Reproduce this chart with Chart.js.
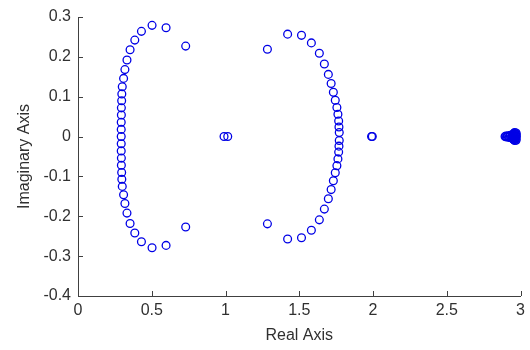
<!DOCTYPE html>
<html>
<head>
<meta charset="utf-8">
<script src="https://cdn.jsdelivr.net/npm/chart.js@4/dist/chart.umd.min.js"></script>
<style>
html,body{margin:0;padding:0;background:#fff;}
#wrap{width:530px;height:350px;}
</style>
</head>
<body>
<div id="wrap"><canvas id="c" width="530" height="350"></canvas></div>
<script>
// Pole locations (real part, imaginary part)
const leftBranchRe = [0.730,0.597,0.502,0.430,0.385,0.353,0.332,0.318,0.309,0.300,0.297,0.296,0.294,0.294,0.293,0.293,
                      0.293,
                      0.293,0.293,0.294,0.294,0.296,0.297,0.300,0.309,0.318,0.332,0.353,0.385,0.430,0.502,0.597,0.730];
const leftBranchIm = [0.227,0.273,0.279,0.264,0.242,0.218,0.192,0.168,0.146,0.125,0.107,0.090,0.072,0.054,0.036,0.018,
                      0,
                      -0.018,-0.036,-0.054,-0.072,-0.090,-0.107,-0.125,-0.146,-0.168,-0.192,-0.218,-0.242,-0.264,-0.279,-0.273,-0.227];
const rightBranchRe = [1.284,1.421,1.515,1.582,1.636,1.670,1.697,1.716,1.731,1.744,1.755,1.762,1.767,1.769,1.771,
                       1.771,1.769,1.767,1.762,1.755,1.744,1.731,1.716,1.697,1.670,1.636,1.582,1.515,1.421,1.284];
const rightBranchIm = [0.219,0.257,0.254,0.235,0.209,0.182,0.156,0.133,0.111,0.091,0.073,0.056,0.039,0.024,0.010,
                       -0.010,-0.024,-0.039,-0.056,-0.073,-0.091,-0.111,-0.133,-0.156,-0.182,-0.209,-0.235,-0.254,-0.257,-0.219];
const realAxisRe = [0.99,1.015,1.99,1.995];
const realAxisIm = [0,0,0,0];
const clusterRe = [2.895,2.900,2.905,2.910,2.915,2.920,2.925,2.930,2.935,2.940,2.945,2.945,2.950,2.950,2.952,2.955,2.955,2.958,2.960,2.960,2.962,2.965,2.965,2.968,2.970,2.970,2.972,2.975,2.975,2.978];
const clusterIm = [0,0.001,-0.001,0,0.002,-0.002,0,0.003,-0.003,0,0.004,-0.004,0.006,-0.006,0,0.008,-0.008,0.003,0.010,-0.010,-0.003,0.006,-0.006,0,0.009,-0.009,0.002,0.005,-0.005,0];

const xTicks = [0,0.5,1,1.5,2,2.5,3];
const yTicks = [-0.4,-0.3,-0.2,-0.1,0,0.1,0.2,0.3];

function pts(re, im){ return re.map((r,i)=>({x:r,y:im[i]})); }
const allPoints = [].concat(
  pts(leftBranchRe,leftBranchIm),
  pts(rightBranchRe,rightBranchIm),
  pts(realAxisRe,realAxisIm),
  pts(clusterRe,clusterIm)
);

const AXIS = '#404040';
const TEXT = '#303030';
const FONT = {family:'"Liberation Sans", Arial, sans-serif', size:16};

const inwardTicks = {
  id:'inwardTicks',
  afterDraw(chart){
    const {ctx, chartArea, scales} = chart;
    ctx.save();
    ctx.strokeStyle = AXIS;
    ctx.lineWidth = 1;
    ctx.beginPath();
    xTicks.forEach(v=>{
      const px = Math.round(scales.x.getPixelForValue(v)) + 0.5;
      ctx.moveTo(px, chartArea.bottom);
      ctx.lineTo(px, chartArea.bottom - 5);
    });
    yTicks.forEach(v=>{
      const py = Math.round(scales.y.getPixelForValue(v)) + 0.5;
      ctx.moveTo(chartArea.left, py);
      ctx.lineTo(chartArea.left + 5, py);
    });
    ctx.stroke();
    ctx.restore();
  }
};

const fmt = v => String(Number(Number(v).toFixed(2)));

new Chart(document.getElementById('c'), {
  type:'scatter',
  data:{datasets:[{
    data: allPoints,
    pointStyle:'circle',
    pointRadius:3.9,
    pointHoverRadius:3.9,
    pointBorderWidth:1.3,
    borderColor:'#0000e6',
    backgroundColor:'rgba(0,0,0,0)',
    pointBackgroundColor:'rgba(0,0,0,0)',
    pointBorderColor:'#0000e6'
  }]},
  options:{
    responsive:false,
    animation:false,
    events:[],
    layout:{padding:{top:17,right:6,left:0,bottom:0}},
    plugins:{legend:{display:false},tooltip:{enabled:false}},
    scales:{
      x:{
        type:'linear', min:0, max:3,
        afterBuildTicks(s){ s.ticks = xTicks.map(v=>({value:v})); },
        afterFit(s){ s.height = 54; },
        grid:{drawOnChartArea:false, drawTicks:false},
        border:{display:true, color:AXIS, width:1},
        ticks:{color:TEXT, font:FONT, padding:5, callback:fmt, maxRotation:0, autoSkip:false},
        title:{display:true, text:'Real Axis', color:TEXT, font:FONT, padding:{top:0,bottom:5}}
      },
      y:{
        type:'linear', min:-0.4, max:0.3,
        afterBuildTicks(s){ s.ticks = yTicks.map(v=>({value:v})); },
        afterFit(s){ s.width = 78; },
        grid:{drawOnChartArea:false, drawTicks:false},
        border:{display:true, color:AXIS, width:1},
        ticks:{color:TEXT, font:FONT, padding:7, callback:fmt, autoSkip:false},
        title:{display:true, text:'Imaginary Axis', color:TEXT, font:FONT, padding:{top:15,bottom:0}}
      }
    }
  },
  plugins:[inwardTicks]
});
</script>
</body>
</html>
